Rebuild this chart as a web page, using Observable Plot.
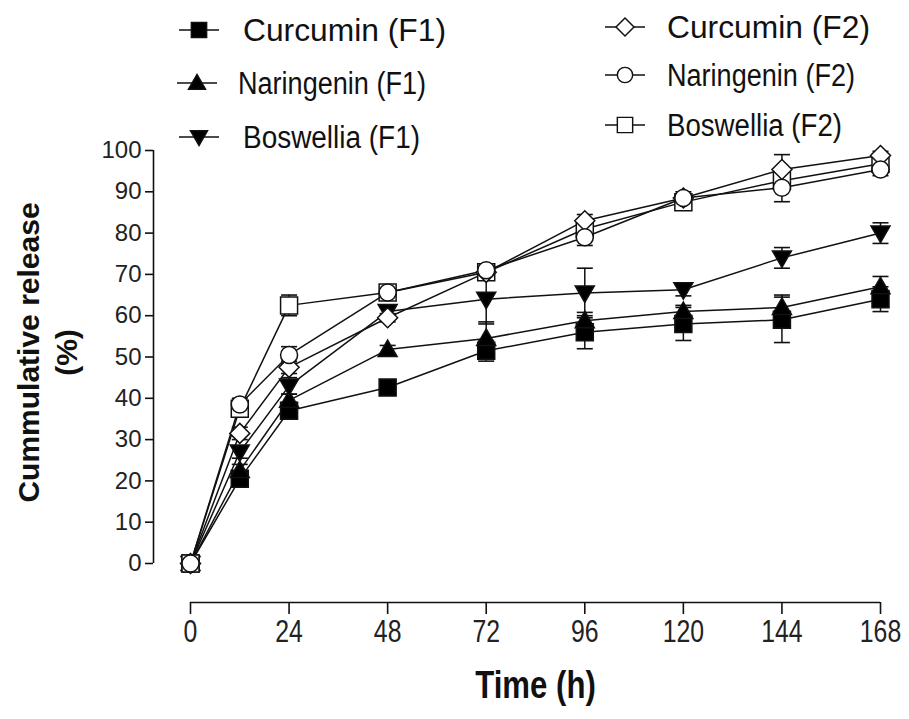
<!DOCTYPE html>
<html><head><meta charset="utf-8">
<script src="https://cdn.jsdelivr.net/npm/d3@7"></script>
<script src="https://cdn.jsdelivr.net/npm/@observablehq/plot@0.6"></script>
<style>
body{margin:0;background:#fff;}
#wrap{position:relative;width:909px;height:719px;overflow:hidden;}
#legend{position:absolute;left:0;top:0;pointer-events:none;}
</style></head><body><div id="wrap"></div>
<script>
// ---- data ----
const times = [0, 12, 24, 48, 72, 96, 120, 144, 168];
const seriesNames = ["Curcumin (F1)", "Naringenin (F1)", "Boswellia (F1)", "Curcumin (F2)", "Naringenin (F2)", "Boswellia (F2)"];
const curcuminF1 = [0, 20.5, 37, 42.6, 51.5, 56, 58, 59, 64];
const curcuminF1Err = [0, 1.5, 2, 1, 2.5, 4, 4, 5.5, 3];
const naringeninF1 = [0, 22.5, 39.5, 51.8, 54.5, 58.8, 61, 62, 67];
const naringeninF1Err = [0, 1.5, 1.5, 1, 4, 2, 1.5, 3, 2.5];
const boswelliaF1 = [0, 27, 43, 61, 64, 65.5, 66.3, 74, 80];
const boswelliaF1Err = [0, 1.5, 2, 1, 6, 6, 1.5, 2.5, 2.5];
const curcuminF2 = [0, 31.5, 47.5, 59.5, 70.5, 83, 88.5, 95.4, 98.8];
const curcuminF2Err = [0, 1.5, 1.5, 1, 1.5, 1.5, 1.5, 3.6, 1];
const naringeninF2 = [0, 38.5, 50.5, 65.6, 71, 79, 88.5, 91, 95.4];
const naringeninF2Err = [0, 1.5, 2, 1, 1.5, 2, 1, 3.4, 1.5];
const boswelliaF2 = [0, 37.5, 62.5, 65.6, 70.5, 81, 87.5, 92.7, 96.8];
const boswelliaF2Err = [0, 1.5, 2.5, 1, 1.5, 2, 1, 2, 1];
const xTicks = [0, 24, 48, 72, 96, 120, 144, 168];
const yTicks = [0, 10, 20, 30, 40, 50, 60, 70, 80, 90, 100];
const xLabel = "Time (h)";
const yLabel = "Cummulative release\n(%)";

// ---- symbols ----
const sym = {
  square: {draw(c){c.moveTo(-8.5,-8.5);c.lineTo(8.5,-8.5);c.lineTo(8.5,8.5);c.lineTo(-8.5,8.5);c.closePath();}},
  triUp: {draw(c){c.moveTo(0,-9.5);c.lineTo(9.5,7);c.lineTo(-9.5,7);c.closePath();}},
  triDown: {draw(c){c.moveTo(0,9.5);c.lineTo(9.5,-7);c.lineTo(-9.5,-7);c.closePath();}},
  circle: {draw(c){c.moveTo(8.5,0);c.arc(0,0,8.5,0,2*Math.PI);c.closePath();}},
  diamond: {draw(c){c.moveTo(0,-10);c.lineTo(10,0);c.lineTo(0,10);c.lineTo(-10,0);c.closePath();}},
  cap: {draw(c){c.moveTo(-8,0);c.lineTo(8,0);}}
};

const series = [
  {name: seriesNames[0], v: curcuminF1, e: curcuminF1Err, symbol: sym.square, fill: "black"},
  {name: seriesNames[1], v: naringeninF1, e: naringeninF1Err, symbol: sym.triUp, fill: "black"},
  {name: seriesNames[2], v: boswelliaF1, e: boswelliaF1Err, symbol: sym.triDown, fill: "black"},
  {name: seriesNames[3], v: curcuminF2, e: curcuminF2Err, symbol: sym.diamond, fill: "white"},
  {name: seriesNames[4], v: naringeninF2, e: naringeninF2Err, symbol: sym.circle, fill: "white"},
  {name: seriesNames[5], v: boswelliaF2, e: boswelliaF2Err, symbol: sym.square, fill: "white"}
];
const rowsOf = s => times.map((t, i) => ({t, v: s.v[i], e: s.e[i]}));
const drawOrder = [0, 1, 2, 5, 3, 4];

const marks = [];
// axis lines (detached, Prism style)
marks.push(Plot.ruleX([0], {y1: 0, y2: 100, dx: -37, stroke: "#111", strokeWidth: 1.6}));
marks.push(Plot.ruleY([0], {x1: 0, x2: 168, dy: 39, stroke: "#111", strokeWidth: 1.6}));
marks.push(Plot.axisY({ticks: yTicks, anchor: "left", tickSize: 8, tickPadding: 4, fontSize: 24, label: null, stroke: "#111", strokeWidth: 1.6, fill: "#222", fontFamily: "Liberation Sans, Arial, sans-serif"}));
marks.push(Plot.axisX({ticks: xTicks, anchor: "bottom", tickSize: 12, tickPadding: 5, fontSize: 31, label: null, stroke: "#111", strokeWidth: 1.6, fill: "#222", fontFamily: "Liberation Sans, Arial, sans-serif"}));

// lines
for (const i of drawOrder) {
  marks.push(Plot.line(rowsOf(series[i]), {x: "t", y: "v", stroke: "#111", strokeWidth: 1.5}));
}
// error bars
for (const i of drawOrder) {
  const rows = rowsOf(series[i]).filter(d => d.e > 0);
  marks.push(Plot.ruleX(rows, {x: "t", y1: d => d.v - d.e, y2: d => d.v + d.e, stroke: "#111", strokeWidth: 1.5}));
  marks.push(Plot.dot(rows, {x: "t", y: d => d.v + d.e, symbol: sym.cap, stroke: "#111", fill: "none", strokeWidth: 1.6}));
  marks.push(Plot.dot(rows, {x: "t", y: d => d.v - d.e, symbol: sym.cap, stroke: "#111", fill: "none", strokeWidth: 1.6}));
}
// symbols
for (const i of drawOrder) {
  const s = series[i];
  marks.push(Plot.dot(rowsOf(s), {x: "t", y: "v", symbol: s.symbol, fill: s.fill, stroke: "#111", strokeWidth: 1.5}));
}
// axis titles
marks.push(Plot.text([yLabel], {text: d => d, frameAnchor: "top-left", dx: -108, dy: 202, rotate: -90, textAnchor: "middle", lineAnchor: "middle", lineHeight: 1.27, fontSize: 30, fontWeight: "bold", fill: "#111", fontFamily: "Liberation Sans, Arial, sans-serif"}));
marks.push(Plot.text([xLabel], {text: d => d, frameAnchor: "top-left", dx: 382, dy: 535, textAnchor: "middle", lineAnchor: "middle", fontSize: 38, fontWeight: "bold", fill: "#111", fontFamily: "Liberation Sans, Arial, sans-serif"}));

const chart = Plot.plot({
  width: 909, height: 719,
  marginLeft: 153, marginRight: 29, marginTop: 150, marginBottom: 117,
  x: {domain: [0, 168], range: [190, 880]},
  y: {domain: [0, 100], range: [563, 150]},
  style: {background: "white", fontFamily: "Liberation Sans, Arial, sans-serif", overflow: "visible"},
  marks
});
document.getElementById("wrap").appendChild(chart);

// condense x tick labels and x title (reference uses a narrow face)
d3.select(chart).selectAll("text").each(function() {
  const t = this.textContent;
  const isXTick = xTicks.map(String).includes(t) && this.closest('[aria-label="x-axis tick label"]');
  const isXTitle = t === xLabel;
  if (isXTick || isXTitle) {
    const tr = this.getAttribute("transform") || "";
    this.setAttribute("transform", tr + ` scale(${isXTitle ? 0.82 : 0.8},1)`);
  }
});

// ---- legend (overlay) ----
const legendPos = [
  {mx: 199, y: 30, tx: 243, w: 203},
  {mx: 197, y: 83, tx: 238, w: 188},
  {mx: 199, y: 137, tx: 243, w: 177},
  {mx: 625, y: 27, tx: 667, w: 203},
  {mx: 625, y: 75, tx: 667, w: 188},
  {mx: 625, y: 125, tx: 667, w: 175}
];
const lg = d3.select("#wrap").append("svg").attr("id", "legend").attr("width", 909).attr("height", 180);
series.forEach((s, i) => {
  const p = legendPos[i];
  const g = lg.append("g");
  g.append("line").attr("x1", p.mx - 20).attr("x2", p.mx + 20).attr("y1", p.y).attr("y2", p.y).attr("stroke", "#111").attr("stroke-width", 1.6);
  const path = d3.path(); s.symbol.draw(path);
  g.append("path").attr("d", path.toString()).attr("transform", `translate(${p.mx},${p.y}) scale(0.9)`).attr("fill", s.fill).attr("stroke", "#111").attr("stroke-width", 1.6);
  g.append("text").attr("x", p.tx).attr("y", p.y).attr("dy", "0.36em").attr("font-size", 31).attr("fill", "#111")
    .attr("textLength", p.w).attr("lengthAdjust", "spacingAndGlyphs")
    .attr("font-family", "Liberation Sans, Arial, sans-serif").text(s.name);
});
</script></body></html>
